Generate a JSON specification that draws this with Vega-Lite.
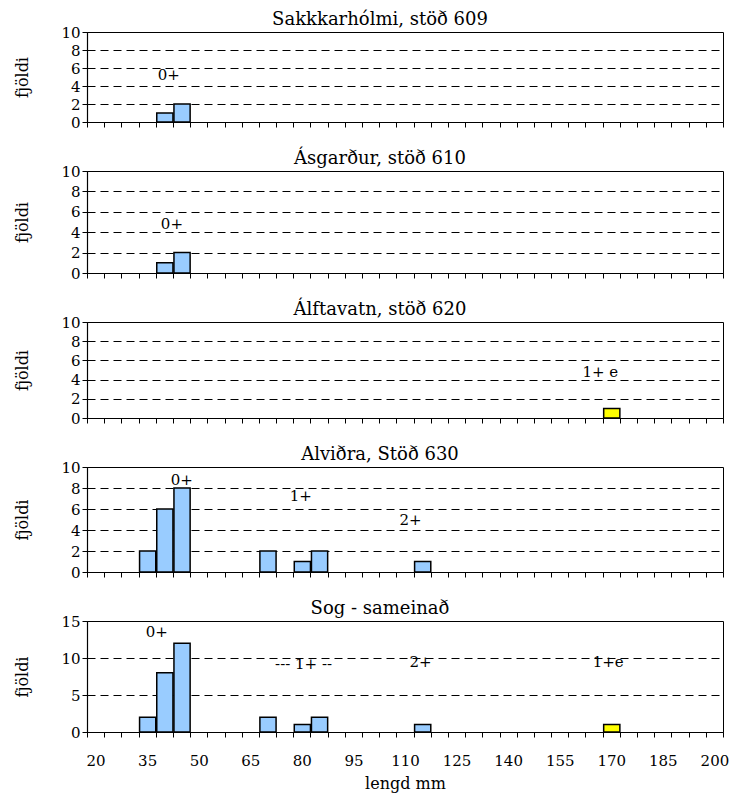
{
  "$schema": "https://vega.github.io/schema/vega-lite/v6.json",
  "padding": {"left": 14, "top": 10, "right": 8, "bottom": 2},
  "background": "white",
  "spacing": 49,
  "bounds": "flush",
  "datasets": {
    "bars": [
      {"stod": "609", "lengd": 40, "fjoldi": 1, "aldur": "0+"},
      {"stod": "609", "lengd": 45, "fjoldi": 2, "aldur": "0+"},
      {"stod": "610", "lengd": 40, "fjoldi": 1, "aldur": "0+"},
      {"stod": "610", "lengd": 45, "fjoldi": 2, "aldur": "0+"},
      {"stod": "620", "lengd": 170, "fjoldi": 1, "aldur": "1+e"},
      {"stod": "630", "lengd": 35, "fjoldi": 2, "aldur": "0+"},
      {"stod": "630", "lengd": 40, "fjoldi": 6, "aldur": "0+"},
      {"stod": "630", "lengd": 45, "fjoldi": 8, "aldur": "0+"},
      {"stod": "630", "lengd": 70, "fjoldi": 2, "aldur": "1+"},
      {"stod": "630", "lengd": 80, "fjoldi": 1, "aldur": "1+"},
      {"stod": "630", "lengd": 85, "fjoldi": 2, "aldur": "1+"},
      {"stod": "630", "lengd": 115, "fjoldi": 1, "aldur": "2+"},
      {"stod": "Sog", "lengd": 35, "fjoldi": 2, "aldur": "0+"},
      {"stod": "Sog", "lengd": 40, "fjoldi": 8, "aldur": "0+"},
      {"stod": "Sog", "lengd": 45, "fjoldi": 12, "aldur": "0+"},
      {"stod": "Sog", "lengd": 70, "fjoldi": 2, "aldur": "1+"},
      {"stod": "Sog", "lengd": 80, "fjoldi": 1, "aldur": "1+"},
      {"stod": "Sog", "lengd": 85, "fjoldi": 2, "aldur": "1+"},
      {"stod": "Sog", "lengd": 115, "fjoldi": 1, "aldur": "2+"},
      {"stod": "Sog", "lengd": 170, "fjoldi": 1, "aldur": "1+e"}
    ],
    "notes": [
      {"stod": "609", "texti": "0+", "mm": 43.8, "y": 5.2},
      {"stod": "610", "texti": "0+", "mm": 44.7, "y": 4.8},
      {"stod": "620", "texti": "1+ e", "mm": 169.3, "y": 4.8},
      {"stod": "630", "texti": "0+", "mm": 47.6, "y": 8.8},
      {"stod": "630", "texti": "1+", "mm": 82.2, "y": 7.2},
      {"stod": "630", "texti": "2+", "mm": 114.1, "y": 5.0},
      {"stod": "Sog", "texti": "0+", "mm": 40.3, "y": 13.5},
      {"stod": "Sog", "texti": "--- 1+ --", "mm": 83, "y": 9.2},
      {"stod": "Sog", "texti": "2+", "mm": 117, "y": 9.5},
      {"stod": "Sog", "texti": "1+e", "mm": 171.6, "y": 9.5}
    ]
  },
  "vconcat": [
    {
      "width": 636, "height": 90,
      "title": {"text": "Sakkkarhólmi, stöð 609"},
      "layer": [
        {
          "data": {"name": "bars"},
          "transform": [{"filter": "datum.stod == '609'"}, {"bin": {"step": 5, "extent": [20, 205]}, "field": "lengd", "as": ["b0", "b1"]}],
          "mark": {"type": "bar", "stroke": "black", "strokeWidth": 1.5},
          "encoding": {
            "x": {"field": "b0", "type": "quantitative", "bin": {"binned": true, "step": 5}, "scale": {"domain": [20, 205], "nice": false, "zero": false},
              "axis": {"title": null, "labels": false, "values": [20,25,30,35,40,45,50,55,60,65,70,75,80,85,90,95,100,105,110,115,120,125,130,135,140,145,150,155,160,165,170,175,180,185,190,195,200,205], "grid": false}},
            "x2": {"field": "b1"},
            "y": {"field": "fjoldi", "type": "quantitative", "scale": {"domain": [0, 10], "nice": false}, "axis": {"title": "fjöldi", "values": [0,2,4,6,8,10]}},
            "color": {"field": "aldur", "type": "nominal", "scale": {"domain": ["0+", "1+", "2+", "1+e"], "range": ["#99CCFF", "#99CCFF", "#99CCFF", "#FFFF00"]}, "legend": null}
          }
        },
        {
          "data": {"name": "notes"},
          "transform": [{"filter": "datum.stod == '609'"}],
          "mark": {"type": "text", "fontSize": 15, "color": "black", "baseline": "middle"},
          "encoding": {"x": {"field": "mm", "type": "quantitative"}, "y": {"field": "y", "type": "quantitative", "axis": {"title": "fjöldi", "values": [0,2,4,6,8,10]}}, "text": {"field": "texti"}}
        }
      ]
    },
    {
      "width": 636, "height": 102,
      "title": {"text": "Ásgarður, stöð 610"},
      "layer": [
        {
          "data": {"name": "bars"},
          "transform": [{"filter": "datum.stod == '610'"}, {"bin": {"step": 5, "extent": [20, 205]}, "field": "lengd", "as": ["b0", "b1"]}],
          "mark": {"type": "bar", "stroke": "black", "strokeWidth": 1.5},
          "encoding": {
            "x": {"field": "b0", "type": "quantitative", "bin": {"binned": true, "step": 5}, "scale": {"domain": [20, 205], "nice": false, "zero": false},
              "axis": {"title": null, "labels": false, "values": [20,25,30,35,40,45,50,55,60,65,70,75,80,85,90,95,100,105,110,115,120,125,130,135,140,145,150,155,160,165,170,175,180,185,190,195,200,205], "grid": false}},
            "x2": {"field": "b1"},
            "y": {"field": "fjoldi", "type": "quantitative", "scale": {"domain": [0, 10], "nice": false}, "axis": {"title": "fjöldi", "values": [0,2,4,6,8,10]}},
            "color": {"field": "aldur", "type": "nominal", "scale": {"domain": ["0+", "1+", "2+", "1+e"], "range": ["#99CCFF", "#99CCFF", "#99CCFF", "#FFFF00"]}, "legend": null}
          }
        },
        {
          "data": {"name": "notes"},
          "transform": [{"filter": "datum.stod == '610'"}],
          "mark": {"type": "text", "fontSize": 15, "color": "black", "baseline": "middle"},
          "encoding": {"x": {"field": "mm", "type": "quantitative"}, "y": {"field": "y", "type": "quantitative", "axis": {"title": "fjöldi", "values": [0,2,4,6,8,10]}}, "text": {"field": "texti"}}
        }
      ]
    },
    {
      "width": 636, "height": 96,
      "title": {"text": "Álftavatn, stöð 620"},
      "layer": [
        {
          "data": {"name": "bars"},
          "transform": [{"filter": "datum.stod == '620'"}, {"bin": {"step": 5, "extent": [20, 205]}, "field": "lengd", "as": ["b0", "b1"]}],
          "mark": {"type": "bar", "stroke": "black", "strokeWidth": 1.5},
          "encoding": {
            "x": {"field": "b0", "type": "quantitative", "bin": {"binned": true, "step": 5}, "scale": {"domain": [20, 205], "nice": false, "zero": false},
              "axis": {"title": null, "labels": false, "values": [20,25,30,35,40,45,50,55,60,65,70,75,80,85,90,95,100,105,110,115,120,125,130,135,140,145,150,155,160,165,170,175,180,185,190,195,200,205], "grid": false}},
            "x2": {"field": "b1"},
            "y": {"field": "fjoldi", "type": "quantitative", "scale": {"domain": [0, 10], "nice": false}, "axis": {"title": "fjöldi", "values": [0,2,4,6,8,10]}},
            "color": {"field": "aldur", "type": "nominal", "scale": {"domain": ["0+", "1+", "2+", "1+e"], "range": ["#99CCFF", "#99CCFF", "#99CCFF", "#FFFF00"]}, "legend": null}
          }
        },
        {
          "data": {"name": "notes"},
          "transform": [{"filter": "datum.stod == '620'"}],
          "mark": {"type": "text", "fontSize": 15, "color": "black", "baseline": "middle"},
          "encoding": {"x": {"field": "mm", "type": "quantitative"}, "y": {"field": "y", "type": "quantitative", "axis": {"title": "fjöldi", "values": [0,2,4,6,8,10]}}, "text": {"field": "texti"}}
        }
      ]
    },
    {
      "width": 636, "height": 105,
      "title": {"text": "Alviðra, Stöð 630"},
      "layer": [
        {
          "data": {"name": "bars"},
          "transform": [{"filter": "datum.stod == '630'"}, {"bin": {"step": 5, "extent": [20, 205]}, "field": "lengd", "as": ["b0", "b1"]}],
          "mark": {"type": "bar", "stroke": "black", "strokeWidth": 1.5},
          "encoding": {
            "x": {"field": "b0", "type": "quantitative", "bin": {"binned": true, "step": 5}, "scale": {"domain": [20, 205], "nice": false, "zero": false},
              "axis": {"title": null, "labels": false, "values": [20,25,30,35,40,45,50,55,60,65,70,75,80,85,90,95,100,105,110,115,120,125,130,135,140,145,150,155,160,165,170,175,180,185,190,195,200,205], "grid": false}},
            "x2": {"field": "b1"},
            "y": {"field": "fjoldi", "type": "quantitative", "scale": {"domain": [0, 10], "nice": false}, "axis": {"title": "fjöldi", "values": [0,2,4,6,8,10]}},
            "color": {"field": "aldur", "type": "nominal", "scale": {"domain": ["0+", "1+", "2+", "1+e"], "range": ["#99CCFF", "#99CCFF", "#99CCFF", "#FFFF00"]}, "legend": null}
          }
        },
        {
          "data": {"name": "notes"},
          "transform": [{"filter": "datum.stod == '630'"}],
          "mark": {"type": "text", "fontSize": 15, "color": "black", "baseline": "middle"},
          "encoding": {"x": {"field": "mm", "type": "quantitative"}, "y": {"field": "y", "type": "quantitative", "axis": {"title": "fjöldi", "values": [0,2,4,6,8,10]}}, "text": {"field": "texti"}}
        }
      ]
    },
    {
      "width": 636, "height": 111,
      "title": {"text": "Sog - sameinað"},
      "layer": [
        {
          "data": {"name": "bars"},
          "transform": [{"filter": "datum.stod == 'Sog'"}, {"bin": {"step": 5, "extent": [20, 205]}, "field": "lengd", "as": ["b0", "b1"]}],
          "mark": {"type": "bar", "stroke": "black", "strokeWidth": 1.5},
          "encoding": {
            "x": {"field": "b0", "type": "quantitative", "bin": {"binned": true, "step": 5}, "scale": {"domain": [20, 205], "nice": false, "zero": false},
              "axis": {"title": "lengd mm", "labels": true, "labelOffset": 8.6, "labelFlush": false, "labelOverlap": false, "labelPadding": 16, "titlePadding": 7,
                "labelExpr": "datum.value <= 200 && (datum.value - 20) % 15 == 0 ? datum.label : ''",
                "values": [20,25,30,35,40,45,50,55,60,65,70,75,80,85,90,95,100,105,110,115,120,125,130,135,140,145,150,155,160,165,170,175,180,185,190,195,200,205], "grid": false}},
            "x2": {"field": "b1"},
            "y": {"field": "fjoldi", "type": "quantitative", "scale": {"domain": [0, 15], "nice": false}, "axis": {"title": "fjöldi", "values": [0,5,10,15]}},
            "color": {"field": "aldur", "type": "nominal", "scale": {"domain": ["0+", "1+", "2+", "1+e"], "range": ["#99CCFF", "#99CCFF", "#99CCFF", "#FFFF00"]}, "legend": null}
          }
        },
        {
          "data": {"name": "notes"},
          "transform": [{"filter": "datum.stod == 'Sog'"}],
          "mark": {"type": "text", "fontSize": 15, "color": "black", "baseline": "middle"},
          "encoding": {"x": {"field": "mm", "type": "quantitative"}, "y": {"field": "y", "type": "quantitative", "axis": {"title": "fjöldi", "values": [0,5,10,15]}}, "text": {"field": "texti"}}
        }
      ]
    }
  ],
  "config": {
    "font": "DejaVu Serif",
    "view": {"stroke": "black", "strokeWidth": 1},
    "title": {"font": "DejaVu Serif", "fontSize": 18, "fontWeight": "normal", "color": "black", "anchor": "middle", "offset": -4, "dx": -25},
    "text": {"font": "DejaVu Serif"},
    "axis": {
      "labelFont": "DejaVu Serif", "labelFontSize": 15, "labelColor": "black", "labelOverlap": false,
      "titleFont": "DejaVu Serif", "titleFontSize": 16, "titleFontWeight": "normal", "titleColor": "black",
      "domainColor": "black", "domainWidth": 1.2, "tickColor": "black", "tickSize": 5, "tickWidth": 1
    },
    "axisY": {"gridColor": "black", "gridDash": [8, 5], "gridWidth": 1, "gridOpacity": 1, "labelPadding": 2, "titlePadding": 30, "labelFlush": false},
    "axisX": {"labelBaseline": "top"}
  }
}
